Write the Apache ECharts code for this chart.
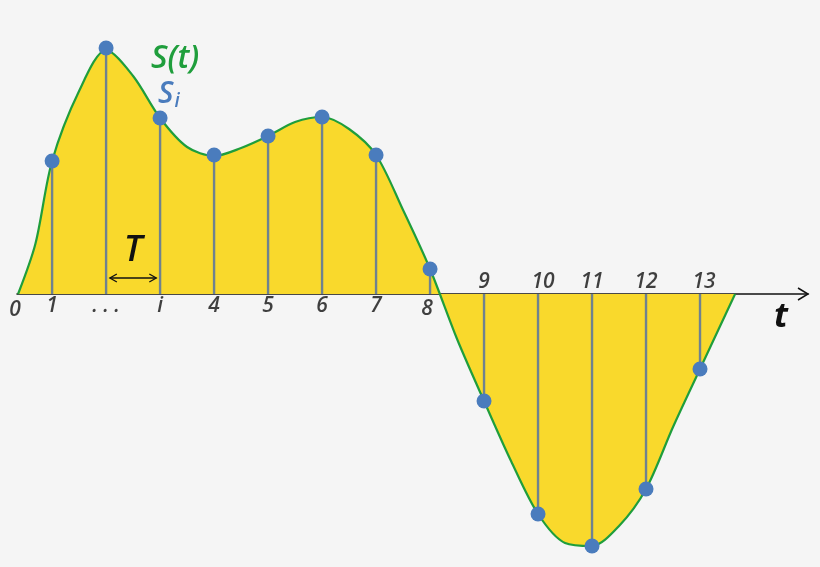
<!DOCTYPE html>
<html><head><meta charset="utf-8">
<script src="https://cdn.jsdelivr.net/npm/echarts@6/dist/echarts.min.js"></script>
<style>html,body{margin:0;padding:0;background:#f5f5f5}#c{width:820px;height:567px}</style>
</head><body><div id="c"></div>
<script>
// Continuous signal S(t)
const curveT = [0.37, 0.69, 1, 1.5, 2, 2.5, 3, 3.5, 4, 4.5, 5, 5.5, 6, 6.5, 7, 7.5, 8, 8.5, 9, 9.5, 10, 10.5, 11, 11.5, 12, 12.5, 13, 13.65];
const curveV = [0, 50, 133, 203, 244, 218, 176, 147, 138, 146, 158, 172, 177, 165, 139, 84, 25, -45, -107, -167, -220, -249, -252, -232, -195, -133, -75, 0];
// Samples S_i
const sampleT = [1, 2, 3, 4, 5, 6, 7, 8, 9, 10, 11, 12, 13];
const sampleV = [133, 246, 176, 139, 158, 177, 139, 25, -107, -220, -252, -195, -75];
// Tick labels
const tickLabelT = [0.37, 1, 2, 3, 4, 5, 6, 7, 8, 9, 10, 11, 12, 13];
const tickLabels = ['0', '1', '. . .', 'i', '4', '5', '6', '7', '8', '9', '10', '11', '12', '13'];

const FONT = '"Open Sans", Lato, "DejaVu Sans", sans-serif';
const chart = echarts.init(document.getElementById('c'));

const labelData = tickLabelT.map((t, i) => {
  const above = i >= 9;
  return {
    value: [t, 0],
    name: tickLabels[i],
    label: {
      position: above ? 'top' : 'bottom',
      distance: above ? 1 : 2,
      offset: i === 0 ? [-3, 4] : (i === 8 ? [-3, 3] : (i === 10 ? [5, 0] : (i === 13 ? [4, 0] : [0, 0])))
    }
  };
});

chart.setOption({
  backgroundColor: '#f5f5f5',
  animation: false,
  grid: { left: 17, right: 12, top: 4, bottom: 3 },
  xAxis: {
    type: 'value', min: 0.35, max: 15,
    axisLine: { show: true, onZero: true, lineStyle: { color: '#111', width: 1.5 } },
    axisTick: { show: false }, axisLabel: { show: false }, splitLine: { show: false }
  },
  yAxis: {
    type: 'value', min: -270, max: 290, show: false, splitLine: { show: false }
  },
  series: [
    {
      type: 'line', data: curveT.map((t, i) => [t, curveV[i]]),
      smooth: 0.3, symbol: 'none', z: 1,
      lineStyle: { color: '#1f9e3c', width: 2.2 },
      areaStyle: { color: '#f9d92c', opacity: 1, origin: 0 }
    },
    {
      type: 'bar', data: sampleT.map((t, i) => [t, sampleV[i]]),
      barWidth: 2.4, z: 3,
      itemStyle: { color: '#6f8290' }
    },
    {
      type: 'scatter', data: sampleT.map((t, i) => [t, sampleV[i]]),
      symbolSize: 15, z: 5,
      itemStyle: { color: '#4a7cbd', opacity: 1 }
    },
    {
      type: 'scatter', data: labelData, symbolSize: 0, z: 6, silent: true,
      label: {
        show: true, formatter: p => p.name,
        fontFamily: FONT, fontStyle: 'italic', fontWeight: 600, fontSize: 21, color: '#111'
      }
    }
  ]
});

// Annotations placed from data coordinates
const px = (t, v) => chart.convertToPixel({ gridIndex: 0 }, [t, v]);
const axisEnd = px(15, 0);
const aL = px(2.07, 16), aR = px(2.93, 16);
const sPeak = px(2, 246);
const Z = 100;
chart.setOption({
  graphic: [
    { type: 'polyline', z: Z, shape: { points: [[axisEnd[0] - 10, axisEnd[1] - 6], [axisEnd[0], axisEnd[1]], [axisEnd[0] - 10, axisEnd[1] + 6]] },
      style: { stroke: '#111', lineWidth: 1.5, fill: null } },
    { type: 'text', z: Z, x: axisEnd[0] - 27, y: axisEnd[1] + 23,
      style: { text: 't', font: 'italic bold 34px ' + FONT, fill: '#111', align: 'center', verticalAlign: 'middle' } },
    { type: 'line', z: Z, shape: { x1: aL[0], y1: aL[1], x2: aR[0], y2: aR[1] }, style: { stroke: '#111', lineWidth: 1.3 } },
    { type: 'polyline', z: Z, shape: { points: [[aL[0] + 7, aL[1] - 4], [aL[0], aL[1]], [aL[0] + 7, aL[1] + 4]] }, style: { stroke: '#111', lineWidth: 1.3, fill: null } },
    { type: 'polyline', z: Z, shape: { points: [[aR[0] - 7, aR[1] - 4], [aR[0], aR[1]], [aR[0] - 7, aR[1] + 4]] }, style: { stroke: '#111', lineWidth: 1.3, fill: null } },
    { type: 'text', z: Z, x: (aL[0] + aR[0]) / 2, y: aL[1] - 27,
      style: { text: 'T', font: 'italic 600 36px ' + FONT, fill: '#111', align: 'center', verticalAlign: 'middle' } },
    { type: 'text', z: Z, x: sPeak[0] + 69, y: sPeak[1] + 11,
      style: { text: 'S(t)', font: 'italic 600 32px ' + FONT, fill: '#1f9e3c', align: 'center', verticalAlign: 'middle' } },
    { type: 'text', z: Z, x: sPeak[0] + 52, y: sPeak[1] + 29,
      style: { text: '{s|S}{i|i}', align: 'left', verticalAlign: 'top',
        rich: { s: { fontFamily: FONT, fontSize: 30, fontStyle: 'italic', fontWeight: 600, fill: '#4a7cbd', color: '#4a7cbd' },
                i: { fontFamily: FONT, fontSize: 19, fontStyle: 'italic', fontWeight: 600, fill: '#4a7cbd', color: '#4a7cbd', padding: [15, 0, 0, 1] } } } }
  ]
});
</script>
</body></html>
